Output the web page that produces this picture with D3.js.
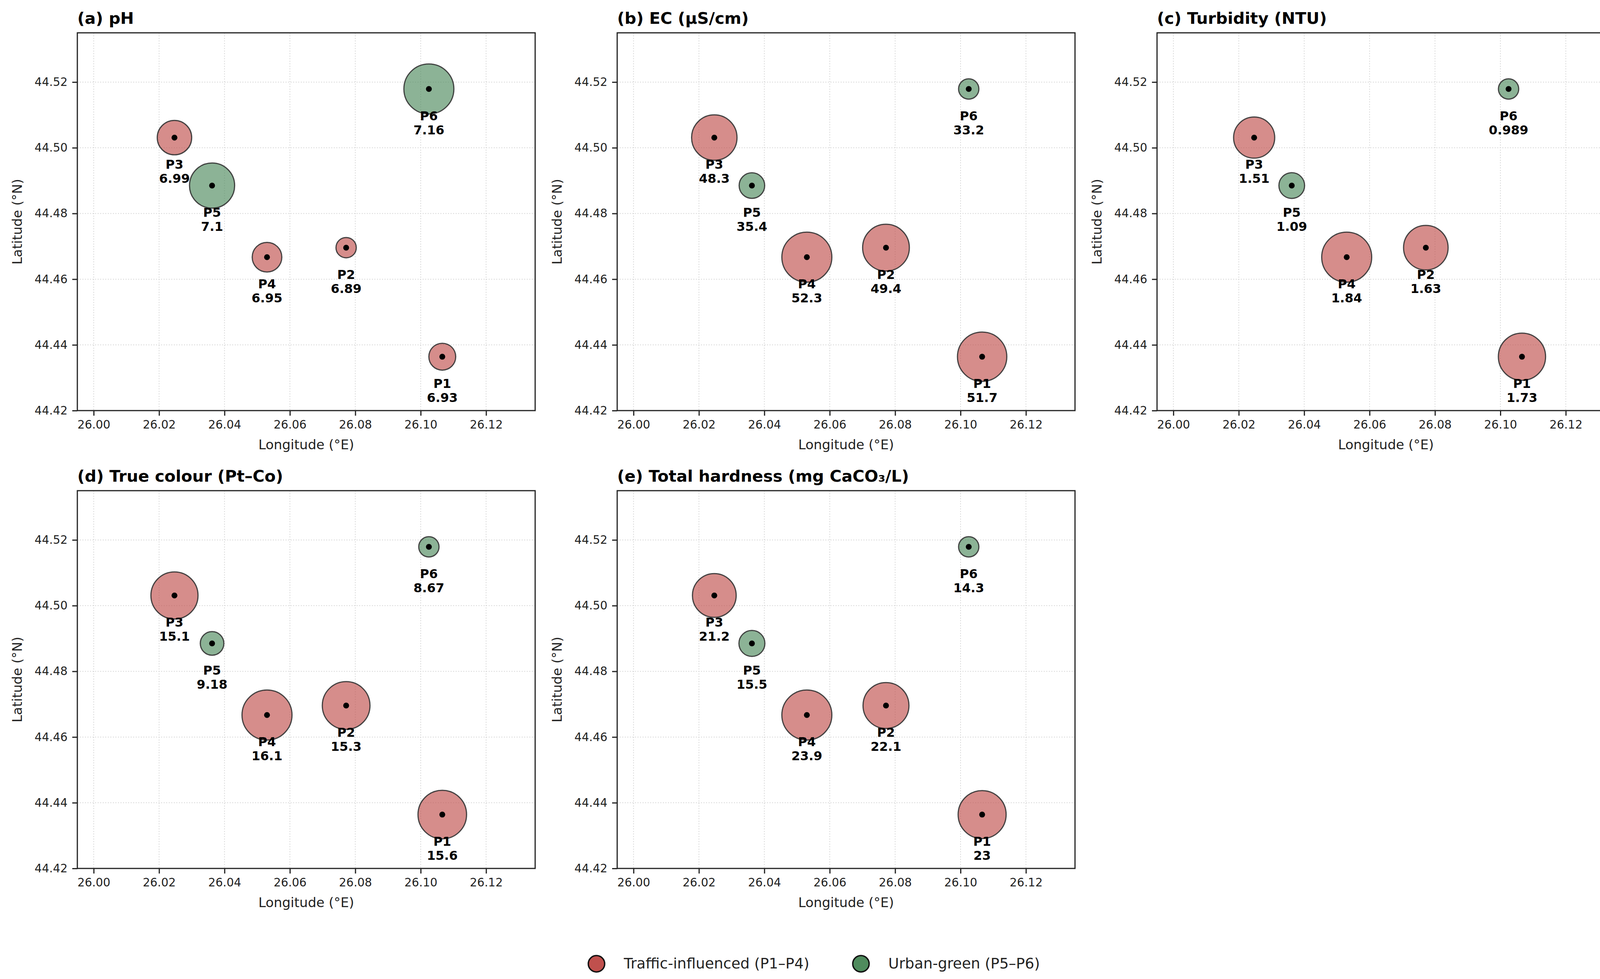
<!DOCTYPE html>
<html>
<head>
<meta charset="utf-8">
<script src="https://cdn.jsdelivr.net/npm/d3@7"></script>
<style>
  body { margin: 0; background: #fff; }
  svg { display: block; font-family: "DejaVu Sans", sans-serif; }
</style>
</head>
<body>
<div id="chart"></div>
<script>
// data
var sites = ["P1", "P2", "P3", "P4", "P5", "P6"]
var groups = ["traffic", "traffic", "traffic", "traffic", "green", "green"]
var lon = [26.1066, 26.0772, 26.0247, 26.0530, 26.0362, 26.1025]
var lat = [44.4364, 44.4696, 44.5031, 44.4667, 44.4885, 44.5179]

var ph = [6.93, 6.89, 6.99, 6.95, 7.1, 7.16]
var ec = [51.7, 49.4, 48.3, 52.3, 35.4, 33.2]
var turbidity = [1.73, 1.63, 1.51, 1.84, 1.09, 0.989]
var trueColour = [15.6, 15.3, 15.1, 16.1, 9.18, 8.67]
var hardness = [23, 22.1, 21.2, 23.9, 15.5, 14.3]

var panelTitles = ["(a) pH", "(b) EC (µS/cm)", "(c) Turbidity (NTU)",
    "(d) True colour (Pt–Co)", "(e) Total hardness (mg CaCO₃/L)"]
var panelValues = [ph, ec, turbidity, trueColour, hardness]

var xTicks = [26.00, 26.02, 26.04, 26.06, 26.08, 26.10, 26.12]
var yTicks = [44.42, 44.44, 44.46, 44.48, 44.50, 44.52]

var legendLabels = ["Traffic-influenced (P1–P4)", "Urban-green (P5–P6)"]

// layout
var total_width = 4171,
    total_height = 2506,
    ax_w = 1172,
    ax_h = 967,
    col_x = [198, 1580, 2962],
    row_y = [84, 1256],
    r = {min: 26, max: 64}

var color = {traffic: "#c0504d", green: "#4f8b5d"}

var svg = d3.select("#chart").append("svg")
    .attr("width", total_width)
    .attr("height", total_height)

var x = d3.scaleLinear().domain([25.995, 26.135]).range([0, ax_w])
var y = d3.scaleLinear().domain([44.42, 44.535]).range([ax_h, 0])

var points = sites.map(function(s, i){
    return {site: s, group: groups[i], lon: lon[i], lat: lat[i], i: i}
})

panelTitles.forEach(function(title, p){
    var values = panelValues[p]
    var g = svg.append("g")
        .attr("transform", "translate(" + col_x[p % 3] + "," + row_y[Math.floor(p / 3)] + ")")

    // grid
    g.append("g").selectAll("line.gx")
        .data(xTicks).enter().append("line")
        .attr("x1", d => x(d)).attr("x2", d => x(d))
        .attr("y1", 0).attr("y2", ax_h)
        .attr("stroke", "#d4d4d4").attr("stroke-width", 2)
        .attr("stroke-dasharray", "2.5,4")
    g.append("g").selectAll("line.gy")
        .data(yTicks).enter().append("line")
        .attr("x1", 0).attr("x2", ax_w)
        .attr("y1", d => y(d)).attr("y2", d => y(d))
        .attr("stroke", "#d4d4d4").attr("stroke-width", 2)
        .attr("stroke-dasharray", "2.5,4")

    // axes
    var xAxis = g.append("g")
        .attr("transform", "translate(0," + ax_h + ")")
        .call(d3.axisBottom(x).tickValues(xTicks).tickFormat(d3.format(".2f"))
            .tickSize(13).tickPadding(12).tickSizeOuter(0))
    var yAxis = g.append("g")
        .call(d3.axisLeft(y).tickValues(yTicks).tickFormat(d3.format(".2f"))
            .tickSize(13).tickPadding(12).tickSizeOuter(0))
    ;[xAxis, yAxis].forEach(function(a){
        a.select(".domain").remove()
        a.selectAll(".tick line").attr("stroke", "#222").attr("stroke-width", 3)
        a.selectAll(".tick text").attr("fill", "#222")
            .style("font-size", "29.5px").style("font-family", "DejaVu Sans")
    })

    // frame
    g.append("rect")
        .attr("width", ax_w).attr("height", ax_h)
        .attr("fill", "none").attr("stroke", "#222").attr("stroke-width", 3)

    // bubbles, area scaled between min and max of the panel
    var area = d3.scaleLinear().domain(d3.extent(values)).range([r.min * r.min, r.max * r.max])
    var pts = g.append("g").selectAll("g")
        .data(points).enter().append("g")
        .attr("transform", d => "translate(" + x(d.lon) + "," + y(d.lat) + ")")
    pts.append("circle")
        .attr("r", d => Math.sqrt(area(values[d.i])))
        .attr("fill", d => color[d.group])
        .attr("fill-opacity", 0.65)
        .attr("stroke", "#333")
        .attr("stroke-opacity", 0.9)
        .attr("stroke-width", 3)
    pts.append("circle")
        .attr("r", 7.5)
        .attr("fill", "#000")
    var lbl = pts.append("text")
        .attr("text-anchor", "middle")
        .style("font-size", "32px")
        .style("font-weight", "bold")
        .attr("fill", "#000")
    lbl.append("tspan").attr("x", 0).attr("y", 80).text(d => d.site)
    lbl.append("tspan").attr("x", 0).attr("y", 116).text(d => d3.format(".3~g")(values[d.i]))

    // titles and labels
    g.append("text")
        .attr("x", 0).attr("y", -23)
        .style("font-size", "41.5px").style("font-weight", "bold")
        .attr("fill", "#000")
        .text(title)
    g.append("text")
        .attr("x", ax_w / 2).attr("y", ax_h + 99)
        .attr("text-anchor", "middle")
        .style("font-size", "34px").attr("fill", "#222")
        .text("Longitude (°E)")
    g.append("text")
        .attr("transform", "translate(-142," + (ax_h / 2) + ") rotate(-90)")
        .attr("text-anchor", "middle")
        .style("font-size", "34px").attr("fill", "#222")
        .text("Latitude (°N)")
})

// legend
var legend = svg.append("g").attr("transform", "translate(0,2467)")
var legend_x = [1527, 2204]
legendLabels.forEach(function(t, i){
    legend.append("circle")
        .attr("cx", legend_x[i]).attr("cy", 0).attr("r", 21)
        .attr("fill", i == 0 ? color.traffic : color.green)
        .attr("stroke", "#111").attr("stroke-width", 3.5)
    legend.append("text")
        .attr("x", legend_x[i] + 70).attr("y", 12)
        .style("font-size", "37.5px").attr("fill", "#222")
        .text(t)
})
</script>
</body>
</html>
